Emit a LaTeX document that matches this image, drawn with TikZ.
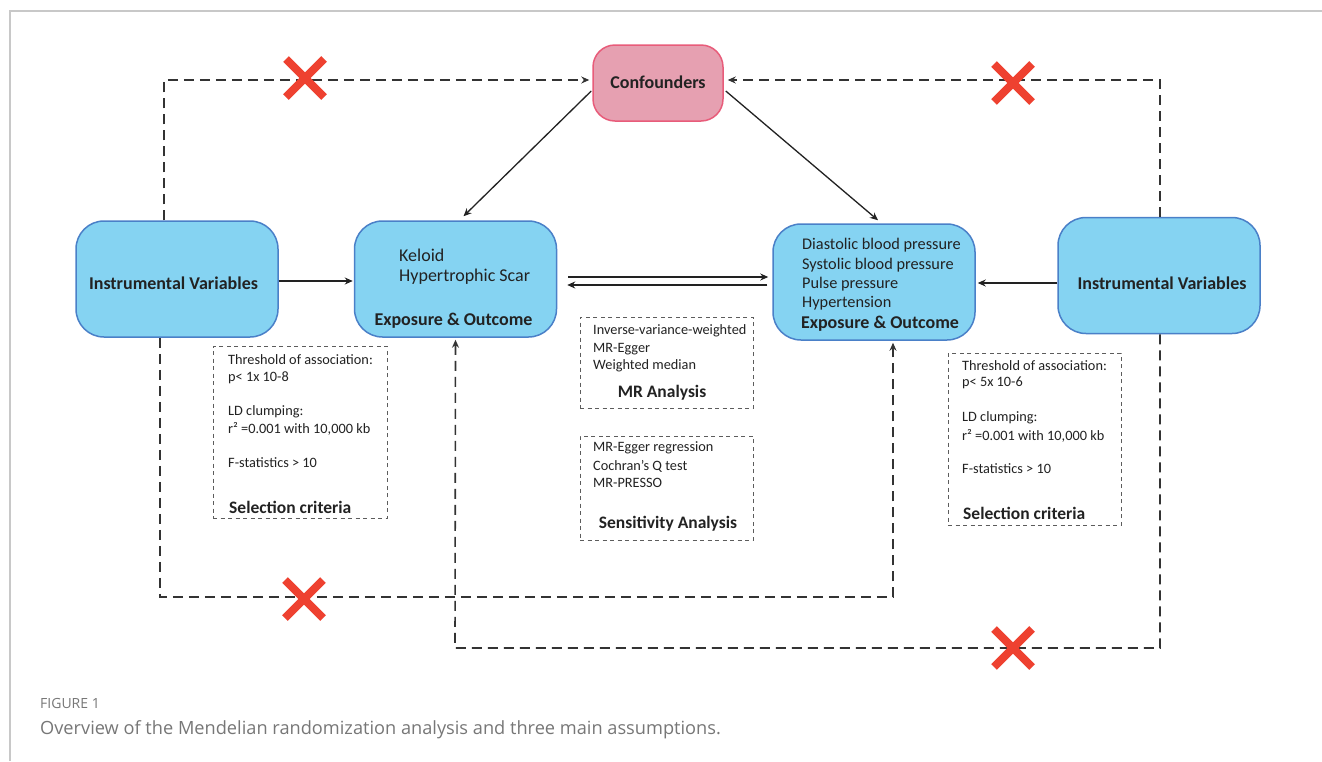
\documentclass[tikz,border=0pt]{standalone}
\usepackage{fontspec}
\setmainfont{Carlito}
\newfontfamily\capfont{Open Sans}
\usetikzlibrary{arrows.meta,calc}
\definecolor{bluefill}{HTML}{85D3F2}
\definecolor{blueline}{HTML}{4A80C8}
\definecolor{pinkfill}{HTML}{E6A0B1}
\definecolor{pinkline}{HTML}{E85C7A}
\definecolor{xred}{HTML}{EE4130}
\definecolor{dline}{HTML}{333333}
\definecolor{framegray}{HTML}{C8C8C8}
\definecolor{capgray}{HTML}{777777}
\definecolor{txt}{HTML}{222222}
\begin{document}
\begin{tikzpicture}[x=1pt,y=-1pt,
  bluebox/.style={draw=blueline,fill=bluefill,line width=1.5pt,rounded corners=28pt,minimum width=202pt,minimum height=116pt,inner sep=0pt},
  pinkbox/.style={draw=pinkline,fill=pinkfill,line width=1.5pt,rounded corners=22pt,minimum width=130pt,minimum height=76pt,inner sep=0pt},
  dbox/.style={draw=dline!80,line width=0.9pt,dash pattern=on 4pt off 3.5pt,inner sep=0pt},
  dconn/.style={draw=dline,line width=1.6pt,dash pattern=on 10pt off 6pt},
  conn/.style={draw=txt,line width=1.3pt},
  tip/.style={-{Stealth[length=8pt,width=7pt]}},
  big/.style={font=\fontsize{18}{21}\selectfont,text=txt,inner sep=0pt},
  mid/.style={font=\fontsize{16.3}{19}\selectfont,text=txt,inner sep=0pt},
  small/.style={font=\fontsize{14.3}{17}\selectfont,text=txt,inner sep=0pt},
  bold/.style={font=\bfseries\fontsize{18}{21}\selectfont,text=txt,inner sep=0pt},
  sbold/.style={font=\bfseries\fontsize{17.5}{20}\selectfont,text=txt,inner sep=0pt},
  xmark/.style={draw=xred,line width=8pt}
]
\useasboundingbox (0,0) rectangle (1322,761);
\fill[white] (0,0) rectangle (1322,761);
% frame
\draw[framegray,line width=1.2pt] (10,761) -- (10,11) -- (1322,11);

% main boxes
\node[pinkbox] (conf) at (658,83) {};
\node[bold] (conftxt) at (658,82) {Confounders};
\node[bluebox] (ivl) at (177,279) {};
\node[bluebox] (exl) at (455.5,279) {};
\node[bluebox] (exr) at (874,282) {};
\node[bluebox] (ivr) at (1159,275.5) {};

\node[bold] (ivltxt) at (173.5,283) {Instrumental Variables};
\node[bold] (ivrtxt) at (1162,283) {Instrumental Variables};

\node[big,anchor=west] (k1) at (399,255) {Keloid};
\node[big,anchor=west] (k2) at (399,277) {Hypertrophic Scar};
\node[bold] (exltxt) at (453.5,321) {Exposure \& Outcome};

\node[mid,anchor=west] (d1) at (802,245) {Diastolic blood pressure};
\node[mid,anchor=west] (d2) at (802,265) {Systolic blood pressure};
\node[mid,anchor=west] (d3) at (802,284) {Pulse pressure};
\node[mid,anchor=west] (d4) at (802,303) {Hypertension};
\node[bold] (exrtxt) at (880,324) {Exposure \& Outcome};

% dashed info boxes
\node[dbox,minimum width=174pt,minimum height=172pt] (selL) at (300,432) {};
\node[small,anchor=west] at (228,360) {Threshold of association:};
\node[small,anchor=west] at (228,378) {p< 1x 10-8};
\node[small,anchor=west] at (228,412) {LD clumping:};
\node[small,anchor=west] at (228,429) {r² =0.001 with 10,000 kb};
\node[small,anchor=west] at (228,463) {F-statistics > 10};
\node[sbold,anchor=west] at (229,507) {Selection criteria};

\node[dbox,minimum width=173pt,minimum height=91pt] (mra) at (666.5,362.5) {};
\node[small,anchor=west] at (593,331) {Inverse-variance-weighted};
\node[small,anchor=west] at (593,349) {MR-Egger};
\node[small,anchor=west] at (593,366) {Weighted median};
\node[sbold] at (662,393) {MR Analysis};

\node[dbox,minimum width=173pt,minimum height=104pt] (sens) at (666.5,488) {};
\node[small,anchor=west] at (593,448) {MR-Egger regression};
\node[small,anchor=west] at (593,466) {Cochran’s Q test};
\node[small,anchor=west] at (593,483) {MR-PRESSO};
\node[sbold] at (668,524) {Sensitivity Analysis};

\node[dbox,minimum width=173pt,minimum height=172pt] (selR) at (1034.5,439) {};
\node[small,anchor=west] at (962,366) {Threshold of association:};
\node[small,anchor=west] at (962,383) {p< 5x 10-6};
\node[small,anchor=west] at (962,418) {LD clumping:};
\node[small,anchor=west] at (962,436) {r² =0.001 with 10,000 kb};
\node[small,anchor=west] at (962,469) {F-statistics > 10};
\node[sbold,anchor=west] at (963,513) {Selection criteria};

% solid connectors
\draw[conn,tip] ($(ivl.east)+(0,2)$) -- ($(ivl.east -| exl.west)+(-1,2)$);
\draw[conn,tip] ($(exr.east -| ivr.west)+(0,1)$) -- ($(exr.east)+(2,1)$);
\draw[conn,tip] ($(exl.east)+(11,-2)$) -- ($(exl.east -| exr.west)+(-4,-2)$);
\draw[conn,tip] ($(exl.east -| exr.west)+(-5,6)$) -- ($(exl.east)+(10,6)$);
\draw[conn,tip] ($(conf.west)+(-1,8)$) -- ($(exl.north)+(8,-4)$);
\draw[conn,tip] ($(conf.east)+(2,8)$) -- ($(exr.north)+(4,-3)$);

% dashed connectors
\coordinate (lowL) at (893,597);
\coordinate (lowR) at (455,648);
\draw[dconn,tip] ($(ivl.north)+(-13,0)$) |- ($(conf.west)+(-3,-3)$);
\draw[dconn,tip] ($(ivr.north)+(1,0)$) |- ($(conf.east)+(4,-3)$);
\draw[dconn,tip] ($(ivl.south)+(-17,0)$) |- (lowL) -- ($(exr.south)+(19,2)$);
\draw[dconn,tip] ($(ivr.south)+(1,0)$) |- (lowR) -- ($(exl.south)+(0,2)$);

% red crosses
\foreach \cx/\cy in {305/78, 1013/83, 304/599, 1013/648}{
  \draw[xmark] (\cx-19,\cy-19) -- (\cx+19,\cy+19);
  \draw[xmark] (\cx-19,\cy+19) -- (\cx+19,\cy-19);
}

% caption
\node[anchor=west,inner sep=0pt,text=capgray,font=\capfont\fontsize{14}{16}\selectfont] (fig) at (40,703) {FIGURE 1};
\node[anchor=west,inner sep=0pt,text=capgray,font=\capfont\fontsize{18.2}{21}\selectfont] (cap) at (40,730) {Overview of the Mendelian randomization analysis and three main assumptions.};
\end{tikzpicture}
\end{document}
